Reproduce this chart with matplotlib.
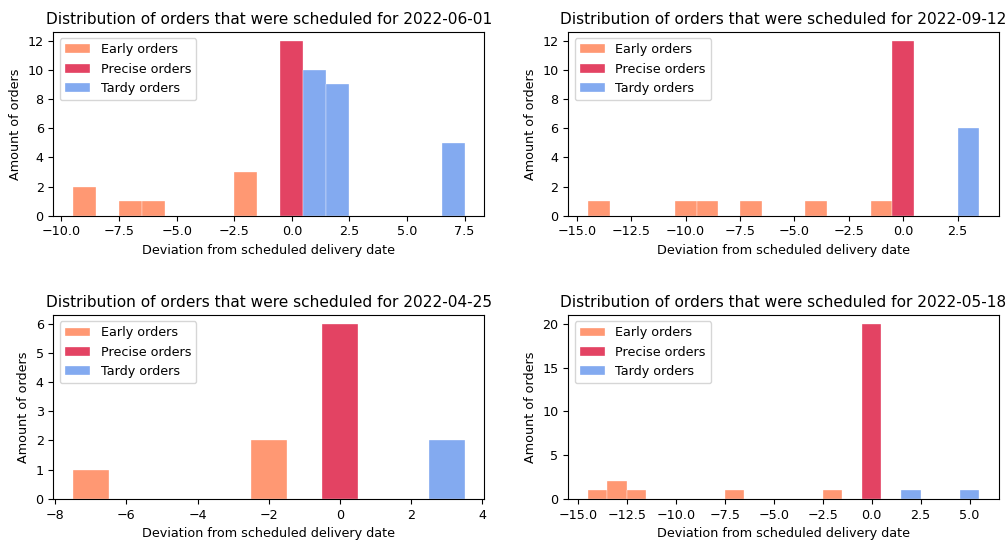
import numpy as np
import matplotlib
matplotlib.use("Agg")
import matplotlib.pyplot as plt

# deviation (days) from scheduled delivery date and the number of orders per day
dates = ["2022-06-01", "2022-09-12", "2022-04-25", "2022-05-18"]

early_days = [
    [-9, -7, -6, -2],
    [-14, -10, -9, -7, -4, -1],
    [-7, -2],
    [-14, -13, -12, -7, -2],
]
early_counts = [
    [2, 1, 1, 3],
    [1, 1, 1, 1, 1, 1],
    [1, 2],
    [1, 2, 1, 1, 1],
]
precise_days = [[0], [0], [0], [0]]
precise_counts = [[12], [12], [6], [20]]
tardy_days = [
    [1, 2, 7],
    [3],
    [3],
    [2, 5],
]
tardy_counts = [
    [10, 9, 5],
    [6],
    [2],
    [1, 1],
]

plt.rcParams["font.size"] = 9.2

fig, axes = plt.subplots(2, 2, figsize=(10.08, 5.41), dpi=100)
fig.subplots_adjust(left=0.053, right=0.991, top=0.941, bottom=0.078, wspace=0.195, hspace=0.54)


def day_bins(days):
    # one bar per day, centred on the integer
    return np.arange(min(days) - 0.5, max(days) + 1.5)


for i, ax in enumerate(axes.flat):
    groups = [
        (early_days[i], early_counts[i], "coral", "Early orders"),
        (precise_days[i], precise_counts[i], "crimson", "Precise orders"),
        (tardy_days[i], tardy_counts[i], "cornflowerblue", "Tardy orders"),
    ]
    for days, counts, color, label in groups:
        ax.hist(days, bins=day_bins(days), weights=counts, color=color, alpha=0.8,
                edgecolor="white", linewidth=0.3, label=label)
    ax.set_title("Distribution of orders that were scheduled for " + dates[i], fontsize=11.1)
    ax.set_xlabel("Deviation from scheduled delivery date")
    ax.set_ylabel("Amount of orders")
    ax.legend(loc="upper left")

fig.savefig("out.png")
